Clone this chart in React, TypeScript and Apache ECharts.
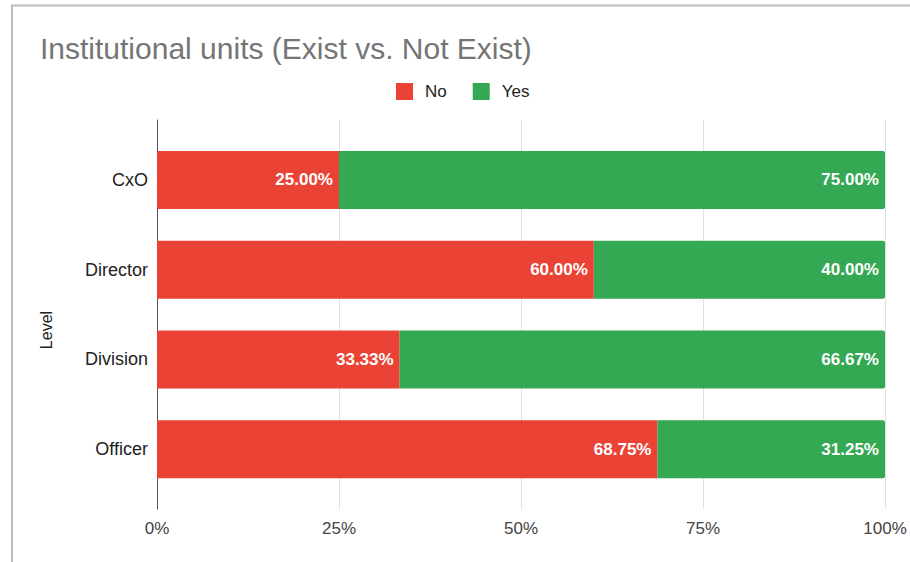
import React, { useEffect, useRef } from "react";
import * as echarts from "echarts";

const categories = ["CxO", "Director", "Division", "Officer"];
const noValues = [25.0, 60.0, 33.33, 68.75];
const yesValues = [75.0, 40.0, 66.67, 31.25];
const tickValues = [0, 25, 50, 75, 100];

const RED = "#EA4335";
const GREEN = "#34A853";
const FONT = "'Liberation Sans', Arial, sans-serif";

export default function App() {
  const ref = useRef<HTMLDivElement>(null);
  useEffect(() => {
    if (!ref.current) return;
    const chart = echarts.init(ref.current, undefined, { renderer: "svg" });
    const label = {
      show: true,
      position: "insideRight" as const,
      distance: 6,
      color: "#ffffff",
      fontFamily: FONT,
      fontWeight: "bold" as const,
      fontSize: 17,
      formatter: (p: any) => Number(p.value).toFixed(2) + "%",
    };
    chart.setOption({
      animation: false,
      backgroundColor: "#ffffff",
      textStyle: { fontFamily: FONT },
      title: {
        text: "Institutional units (Exist vs. Not Exist)",
        left: 35,
        top: 28,
        textStyle: { fontFamily: FONT, fontSize: 30, fontWeight: "normal", color: "#757575" },
      },
      legend: {
        left: 391,
        top: 78,
        itemWidth: 17,
        itemHeight: 17,
        itemGap: 26,
        icon: "rect",
        data: ["No", "Yes"],
        textStyle: { fontFamily: FONT, fontSize: 17, color: "#222222", padding: [0, 0, 0, 7] },
      },
      graphic: [
        {
          type: "rect",
          shape: { x: 12, y: 5.5, width: 2000, height: 2000 },
          style: { fill: "none", stroke: "#bdbdbd", lineWidth: 2 },
          silent: true,
        },
        {
          type: "text",
          x: 46,
          y: 330,
          rotation: Math.PI / 2,
          style: {
            text: "Level",
            fontFamily: FONT,
            fontSize: 16,
            fill: "#222222",
            align: "center",
            verticalAlign: "middle",
          },
        },
      ],
      grid: [
        { left: 157, right: 25, top: 120, bottom: 53 },
        { left: 157, right: 25, top: 135, bottom: 68 },
      ],
      xAxis: [
        {
          gridIndex: 0,
          type: "value",
          min: tickValues[0],
          max: tickValues[tickValues.length - 1],
          interval: 25,
          axisLine: { show: false },
          axisTick: { show: false },
          splitLine: { show: true, lineStyle: { color: "#e0e0e0", width: 1 } },
          axisLabel: {
            formatter: "{value}%",
            fontFamily: FONT,
            fontSize: 17,
            color: "#444444",
            margin: 11,
          },
        },
        {
          gridIndex: 1,
          type: "value",
          min: 0,
          max: 100,
          show: false,
        },
      ],
      yAxis: [
        {
          gridIndex: 0,
          type: "value",
          min: 0,
          max: 1,
          axisLine: { show: true, lineStyle: { color: "#555555", width: 1 } },
          axisTick: { show: false },
          axisLabel: { show: false },
          splitLine: { show: false },
        },
        {
          gridIndex: 1,
          type: "category",
          inverse: true,
          data: categories,
          axisLine: { show: false },
          axisTick: { show: false },
          splitLine: { show: false },
          axisLabel: { fontFamily: FONT, fontSize: 18, color: "#222222", margin: 9 },
        },
      ],
      series: [
        {
          name: "No",
          type: "bar",
          stack: "total",
          xAxisIndex: 1,
          yAxisIndex: 1,
          barWidth: 58,
          data: noValues,
          itemStyle: { color: RED },
          label,
        },
        {
          name: "Yes",
          type: "bar",
          stack: "total",
          xAxisIndex: 1,
          yAxisIndex: 1,
          barWidth: 58,
          data: yesValues,
          itemStyle: { color: GREEN, borderRadius: [0, 2, 2, 0] },
          label,
        },
      ],
    });
    return () => chart.dispose();
  }, []);
  return <div ref={ref} style={{ width: 910, height: 562, position: "absolute", left: 0, top: 0 }} />;
}
